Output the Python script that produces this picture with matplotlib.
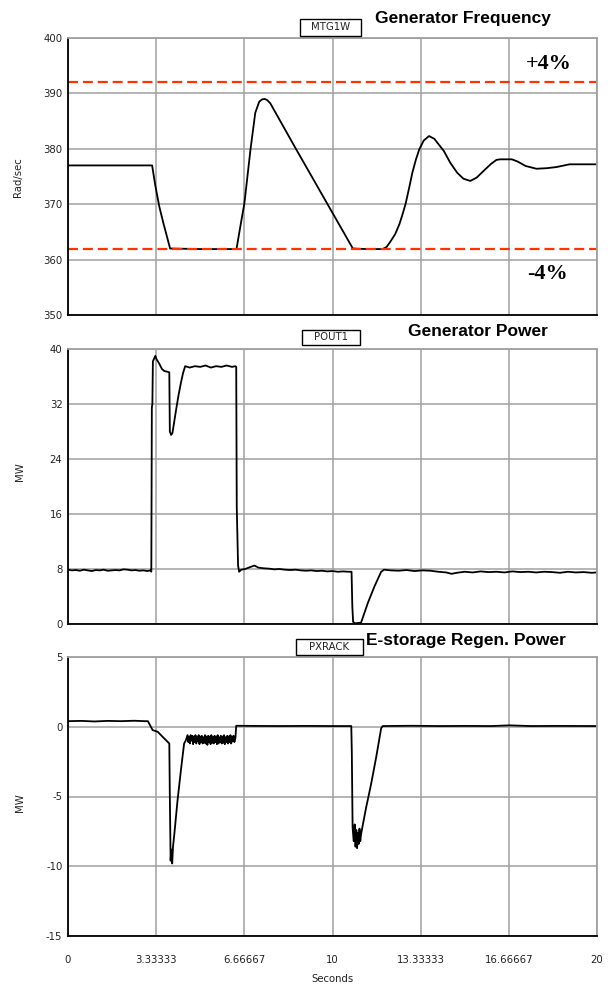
import matplotlib
matplotlib.use("Agg")
import matplotlib.pyplot as plt
from matplotlib.patches import Rectangle

plt.rcParams['axes.unicode_minus'] = False

# ---- data ----
t_freq = [0, 3.18, 3.3, 3.45, 3.6, 3.75, 3.86, 5.0, 6.37, 6.52, 6.67, 6.90, 7.08, 7.23,
          7.33, 7.43, 7.53, 7.65, 8.58, 10.77, 11.3, 11.9, 12.05, 12.21, 12.37, 12.53,
          12.65, 12.77, 12.9, 13.02, 13.15, 13.28, 13.45, 13.65, 13.85, 14.21, 14.45,
          14.71, 14.95, 15.21, 15.45, 15.71, 16.0, 16.2, 16.34, 16.78, 17.0, 17.3,
          17.71, 18.1, 18.46, 18.96, 20]
freq = [377, 377, 373.4, 369.6, 366.7, 364.0, 362, 361.9, 361.9, 366.1, 370.2, 379.9, 386.5,
        388.5, 388.9, 389.0, 388.8, 388.2, 380.3, 362, 361.9, 361.9, 362.3, 363.4, 364.6,
        366.4, 368.2, 370.2, 373.0, 375.7, 378.0, 379.9, 381.5, 382.3, 381.8, 379.6,
        377.5, 375.7, 374.6, 374.2, 374.8, 376.0, 377.3, 378.0, 378.1, 378.1, 377.7,
        376.9, 376.4, 376.5, 376.7, 377.2, 377.2]

t_pow = [0, 0.15, 0.3, 0.45, 0.6, 0.75, 0.9, 1.05, 1.2, 1.35, 1.5, 1.65, 1.8, 1.95, 2.1,
         2.25, 2.4, 2.55, 2.7, 2.85, 3.0, 3.12, 3.15, 3.17, 3.19, 3.21, 3.3, 3.35, 3.46,
         3.55, 3.64, 3.75, 3.83, 3.85, 3.9, 3.95, 4.08, 4.18, 4.27, 4.35, 4.43, 4.6,
         4.8, 5.0, 5.2, 5.4, 5.6, 5.8, 6.0, 6.2, 6.33, 6.36, 6.38, 6.43, 6.47, 6.55,
         6.7, 6.9, 7.05, 7.2, 7.4, 7.6, 7.8, 8.0, 8.2, 8.4, 8.6, 8.8, 9.0, 9.2, 9.4,
         9.6, 9.8, 10.0, 10.2, 10.4, 10.6, 10.72, 10.75, 10.78, 10.85, 11.08, 11.34,
         11.59, 11.84, 11.95, 12.2, 12.5, 12.8, 13.1, 13.4, 13.7, 14.0, 14.3, 14.5,
         14.7, 15.0, 15.3, 15.6, 15.9, 16.2, 16.5, 16.8, 17.1, 17.4, 17.7, 18.0,
         18.3, 18.6, 18.9, 19.2, 19.5, 19.8, 20]
pow_mw = [7.9, 7.8, 7.85, 7.75, 7.9, 7.8, 7.7, 7.85, 7.8, 7.9, 7.75, 7.8, 7.85, 7.8, 7.95,
          7.9, 7.8, 7.85, 7.75, 7.8, 7.7, 7.8, 7.6, 31.5, 32.0, 38.2, 39.0, 38.5, 37.8,
          37.1, 36.8, 36.7, 36.6, 28.0, 27.5, 27.8, 31.0, 33.3, 35.1, 36.5, 37.5, 37.3,
          37.5, 37.4, 37.6, 37.3, 37.5, 37.4, 37.6, 37.4, 37.5, 37.4, 17.0, 8.5, 7.6, 7.9,
          8.0, 8.3, 8.5, 8.2, 8.1, 8.05, 7.95, 8.0, 7.9, 7.85, 7.9, 7.8, 7.75, 7.8, 7.7,
          7.75, 7.65, 7.7, 7.6, 7.65, 7.6, 7.6, 2.5, 0.3, 0.1, 0.2, 3.1,
          5.5, 7.6, 7.9, 7.8, 7.75, 7.85, 7.7, 7.8, 7.75, 7.6, 7.5, 7.3,
          7.45, 7.6, 7.5, 7.65, 7.55, 7.6, 7.5, 7.65, 7.55, 7.6, 7.5, 7.6,
          7.55, 7.45, 7.6, 7.5, 7.55, 7.45, 7.5]

t_reg = [0, 0.5, 1.0, 1.5, 2.0, 2.5, 2.9, 3.02, 3.2, 3.39, 3.64, 3.83, 3.85, 3.88,
         3.9, 3.94, 3.97, 4.02, 4.14, 4.27, 4.39, 4.45, 4.52, 4.55, 4.58, 4.61, 4.64,
         4.67, 4.7, 4.73, 4.76, 4.79, 4.82, 4.85, 4.88, 4.91, 4.94, 4.97, 5.0, 5.03,
         5.06, 5.09, 5.12, 5.15, 5.18, 5.21, 5.24, 5.27, 5.3, 5.33, 5.36, 5.39, 5.42,
         5.45, 5.48, 5.51, 5.54, 5.57, 5.6, 5.63, 5.66, 5.69, 5.72, 5.75, 5.78, 5.81,
         5.84, 5.87, 5.9, 5.93, 5.96, 5.99, 6.02, 6.05, 6.08, 6.11, 6.14, 6.17, 6.2,
         6.23, 6.26, 6.29, 6.33, 6.36, 7.0, 8.0, 9.0, 10.0, 10.71, 10.73, 10.76, 10.8,
         10.84, 10.87, 10.9, 10.93, 10.96, 10.99, 11.02, 11.05, 11.08, 11.17, 11.27,
         11.36, 11.46, 11.55, 11.65, 11.75, 11.84, 11.9, 13.0, 14.0, 15.0, 16.0, 16.7,
         17.5, 18.5, 20]
reg_mw = [0.4, 0.42, 0.38, 0.42, 0.4, 0.43, 0.4, 0.4, -0.24, -0.36, -0.84, -1.2, -5.0, -9.6,
          -8.8, -9.8, -8.6, -7.7, -5.3, -3.1, -1.2, -1.0, -0.6, -1.1, -0.7, -1.2, -0.6,
          -1.0, -0.65, -1.25, -0.7, -1.1, -0.6, -1.2, -0.75, -1.05, -0.6, -1.25, -0.7, -1.1,
          -0.65, -1.2, -0.75, -1.15, -0.6, -1.2, -0.7, -1.3, -0.65, -1.1, -0.7, -1.25, -0.6,
          -1.15, -0.75, -1.2, -0.65, -1.1, -0.7, -1.25, -0.6, -1.2, -0.75, -1.1, -0.65, -1.2,
          -0.7, -1.15, -0.6, -1.25, -0.75, -1.1, -0.65, -1.2, -0.7, -1.1, -0.6, -1.2, -0.7,
          -1.05, -0.65, -1.1, -0.8, 0.07, 0.06, 0.05, 0.06, 0.05, 0.05, -1.8, -7.2, -8.2,
          -7.0, -8.6, -7.4, -8.7, -7.6, -8.4, -7.3, -8.2, -7.7, -6.8, -5.8,
          -5.0, -4.1, -3.2, -2.2, -1.1, -0.1, 0.05, 0.07, 0.05, 0.06, 0.05, 0.1,
          0.05, 0.06, 0.05]

freq_limits = [392, 362]
freq_limit_labels = ['+4%', '-4%']

x_ticks = [0, 20 / 6, 40 / 6, 10, 80 / 6, 100 / 6, 20]
x_ticklabels = ['0', '3.33333', '6.66667', '10', '13.33333', '16.66667', '20']

W, H = 611, 986


def fx(x):
    return x / W


def fy(y):
    return 1 - y / H


def make_axes(fig, top, bottom):
    ax = fig.add_axes([fx(68), fy(bottom), fx(597) - fx(68), fy(top) - fy(bottom)])
    ax.grid(True, color='#a0a0a0', lw=1.1)
    ax.set_axisbelow(True)
    for s in ['top', 'right']:
        ax.spines[s].set_color('#a0a0a0')
        ax.spines[s].set_linewidth(1.3)
    for s in ['left', 'bottom']:
        ax.spines[s].set_color('black')
        ax.spines[s].set_linewidth(1.3)
    ax.tick_params(length=0, labelsize=7.3, labelcolor='#222222', pad=4)
    ax.set_xlim(0, 20)
    ax.set_xticks(x_ticks)
    return ax


def tag(fig, x0, x1, y0, y1, name):
    fig.add_artist(Rectangle((fx(x0), fy(y1)), fx(x1) - fx(x0), fy(y0) - fy(y1),
                             transform=fig.transFigure, fill=True, fc='white',
                             ec='black', lw=1.0))
    fig.text(fx((x0 + x1) / 2), fy((y0 + y1) / 2), name, ha='center', va='center',
             fontsize=7.3, color='#222222')


fig = plt.figure(figsize=(W / 100, H / 100), dpi=100)

# generator frequency
ax1 = make_axes(fig, 38, 315)
ax1.plot(t_freq, freq, color='black', lw=1.3)
for v in freq_limits:
    ax1.axhline(v, color='#ff3300', lw=1.6, dashes=(4.5, 2.2))
ax1.set_ylim(350, 400)
ax1.set_yticks([350, 360, 370, 380, 390, 400])
ax1.set_xticklabels([])

# generator power
ax2 = make_axes(fig, 349, 624)
ax2.plot(t_pow, pow_mw, color='black', lw=1.3)
ax2.set_ylim(0, 40)
ax2.set_yticks([0, 8, 16, 24, 32, 40])
ax2.set_xticklabels([])

# e-storage regen power
ax3 = make_axes(fig, 657, 936)
ax3.plot(t_reg, reg_mw, color='black', lw=1.3)
ax3.set_ylim(-15, 5)
ax3.set_yticks([-15, -10, -5, 0, 5])
ax3.set_xticklabels(x_ticklabels)
ax3.tick_params(axis='x', pad=14)

# labels
fig.text(fx(18), fy(177), 'Rad/sec', rotation=90, ha='center', va='center',
         fontsize=7.3, color='#222222')
fig.text(fx(20), fy(472), 'MW', rotation=90, ha='center', va='center',
         fontsize=7.3, color='#222222')
fig.text(fx(20), fy(803), 'MW', rotation=90, ha='center', va='center',
         fontsize=7.3, color='#222222')
fig.text(fx(332), fy(979), 'Seconds', ha='center', va='center',
         fontsize=7.3, color='#222222')

tag(fig, 300, 361, 19, 36, 'MTG1W')
tag(fig, 302, 360, 330, 345, 'POUT1')
tag(fig, 296, 363, 639, 655, 'PXRACK')

tf = dict(family='Liberation Sans', fontweight='bold', fontsize=12.5, va='center', ha='left')
fig.text(fx(375), fy(19), 'Generator Frequency', **tf)
fig.text(fx(408), fy(332), 'Generator Power', **tf)
fig.text(fx(366), fy(640), 'E-storage Regen. Power', **tf)

pf = dict(family='Liberation Serif', fontweight='bold', fontsize=16, va='center', ha='center')
fig.text(fx(549), fy(64), freq_limit_labels[0], **pf)
fig.text(fx(547), fy(274), freq_limit_labels[1], **pf)

fig.savefig('out.png', dpi=100)
